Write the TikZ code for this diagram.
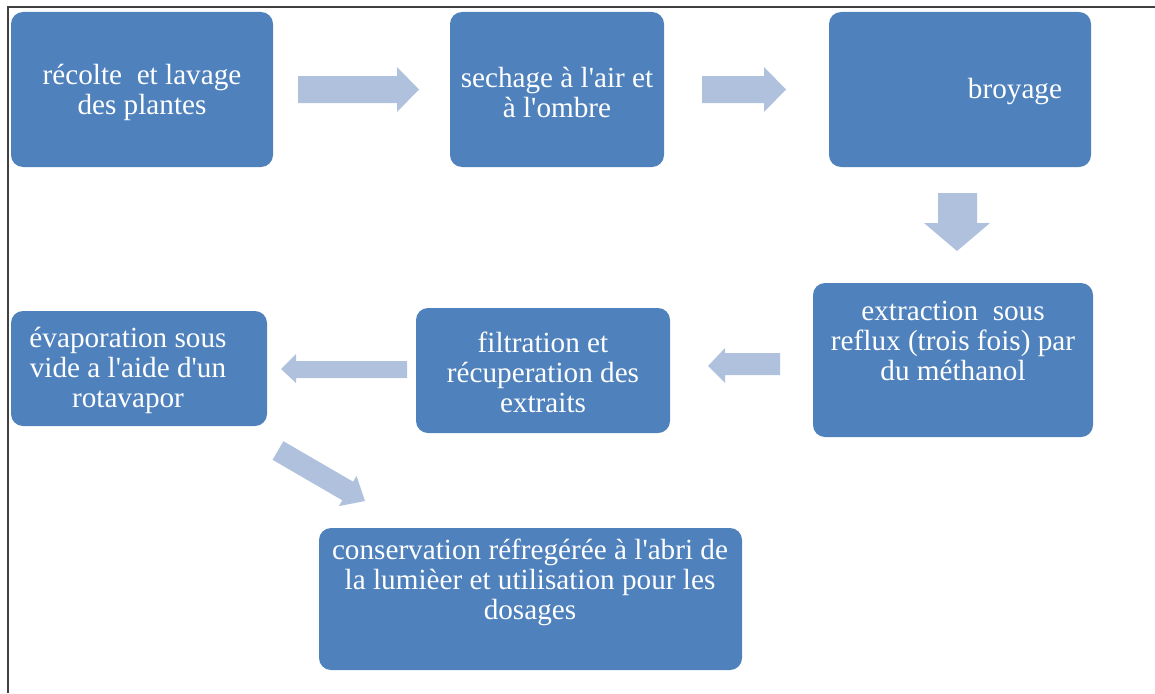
\documentclass[tikz,border=0pt]{standalone}
\usepackage{fontspec}
\setmainfont{Liberation Serif}
\newfontfamily\boxfont{Liberation Serif}
\definecolor{boxblue}{RGB}{79,129,189}
\definecolor{arrowblue}{RGB}{176,193,222}
\definecolor{framegray}{RGB}{64,64,64}
\newcommand{\ap}{\textquotesingle}
\begin{document}
\begin{tikzpicture}[x=1pt,y=-1pt,
  stepbox/.style={fill=boxblue,rounded corners=12pt,inner sep=0pt},
  boxtext/.style={text=white,align=center,font=\boxfont\fontsize{29.2}{30}\selectfont,inner sep=0pt},
  blockarrow/.style={fill=arrowblue}]
\useasboundingbox (0,0) rectangle (1155,693);
\fill[white] (0,0) rectangle (1155,693);
\draw[framegray,line width=2pt] (7.5,693) -- (7.5,7.5) -- (1155,7.5);
% boxes
\path[stepbox] (11,12) rectangle (273,167);
\path[stepbox] (450,12) rectangle (664,167);
\path[stepbox] (829,12) rectangle (1091,167);
\path[stepbox] (813,283) rectangle (1093,437);
\path[stepbox] (416,308) rectangle (670,433);
\path[stepbox] (11,311) rectangle (267,426);
\path[stepbox] (319,528) rectangle (742,670);
% texts
\node[boxtext] (t1) at (142,92) {récolte \ et lavage\\des plantes};
\node[boxtext] (t2) at (557,92) {sechage à l\ap air et\\à l\ap ombre};
\node[boxtext] (t3) at (1015,92) {broyage};
\node[boxtext] (t4) at (953,341) {extraction \ sous\\reflux (trois fois) par\\du méthanol};
\node[boxtext] (t5) at (543,372) {filtration et\\récuperation des\\extraits};
\node[boxtext] (t6) at (128,370) {évaporation sous\\vide a l\ap aide d\ap un\\rotavapor};
\node[boxtext] (t7) at (530,582) {conservation réfregérée à l\ap abri de\\la lumièer et utilisation pour les\\dosages};
% block arrows
\fill[blockarrow] (298,76) -- (397,76) -- (397,67) -- (419,89.5) -- (397,112) -- (397,103) -- (298,103) -- cycle;
\fill[blockarrow] (702,76) -- (764,76) -- (764,67) -- (786,89.5) -- (764,112) -- (764,103) -- (702,103) -- cycle;
\fill[blockarrow] (938,193) -- (977,193) -- (977,223) -- (990,223) -- (957,251) -- (924,223) -- (938,223) -- cycle;
\fill[blockarrow] (780,353) -- (725,353) -- (725,348) -- (708,366) -- (725,383) -- (725,375) -- (780,375) -- cycle;
\fill[blockarrow] (407,361) -- (296,361) -- (296,354) -- (281,369) -- (296,383) -- (296,378) -- (407,378) -- cycle;
\fill[blockarrow] (283.4,441.2) -- (353.1,481.7) -- (356.5,475.9) -- (365,501) -- (338.9,506.1) -- (342.3,500.3) -- (272.6,459.8) -- cycle;
\end{tikzpicture}
\end{document}
